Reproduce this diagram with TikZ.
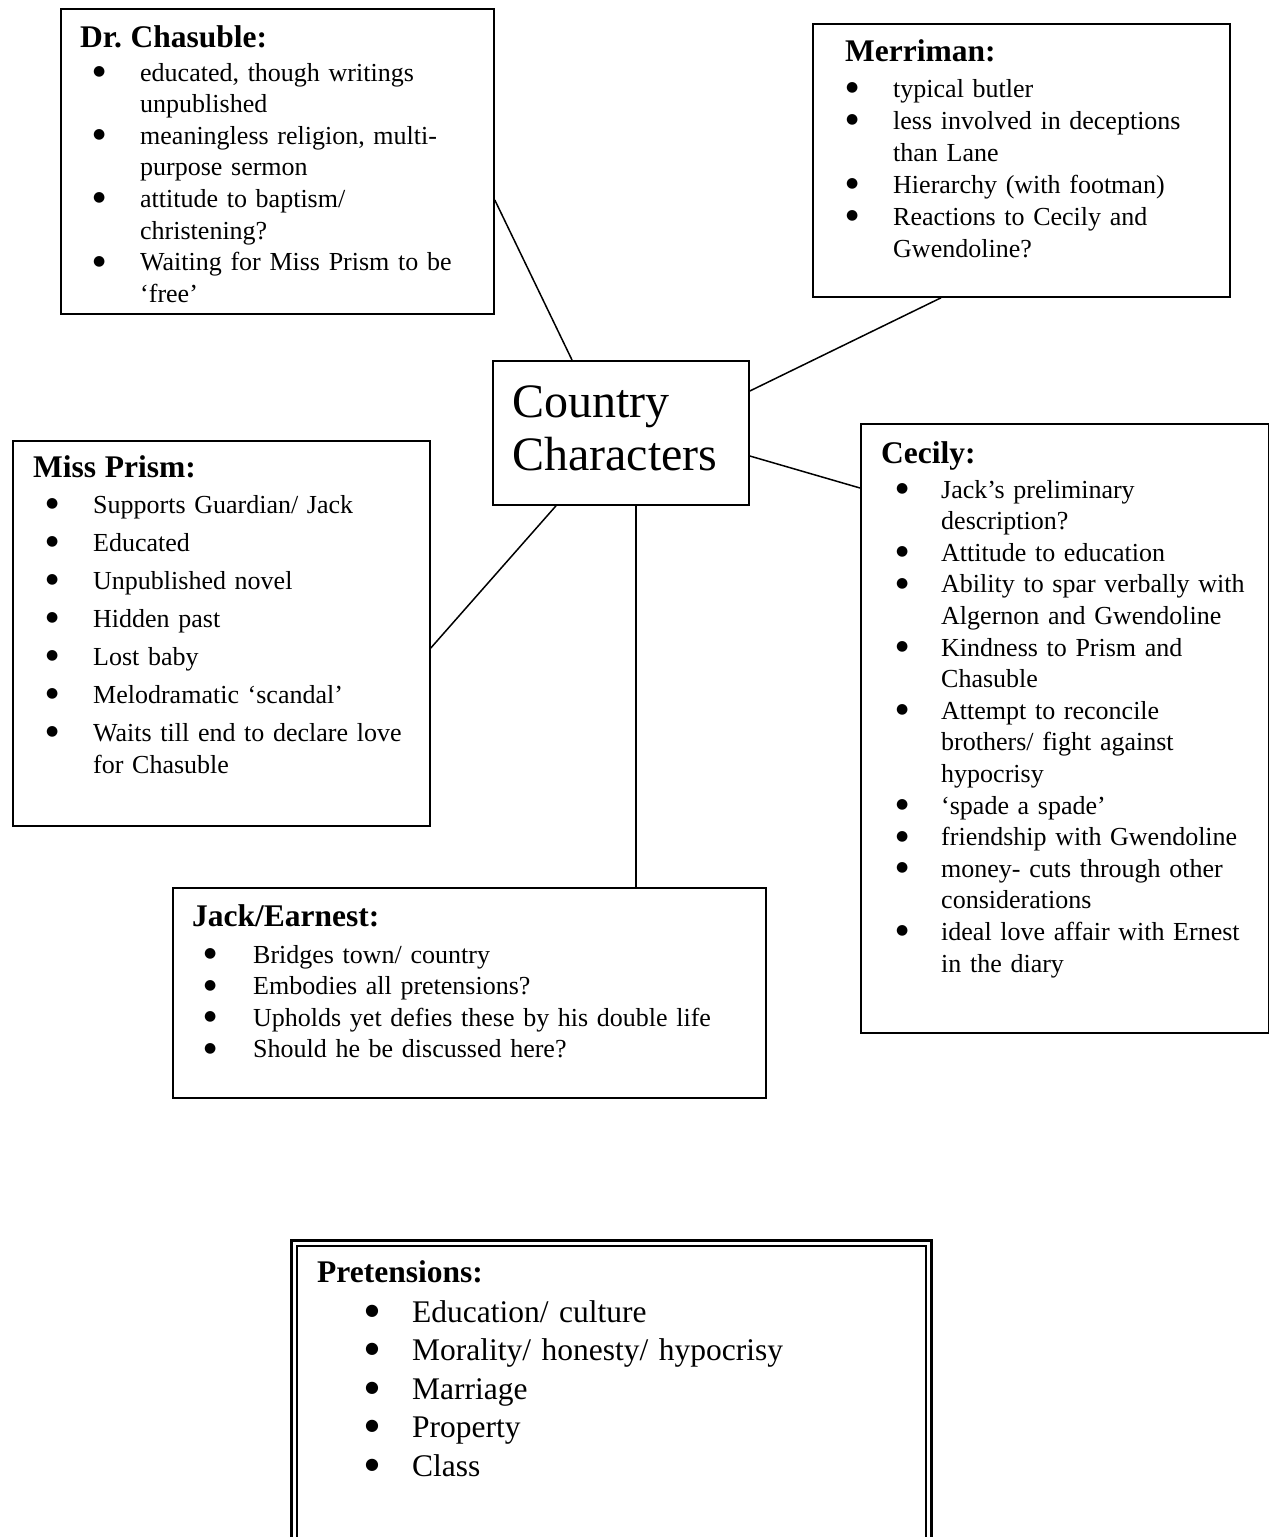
\documentclass[tikz,border=0pt]{standalone}
\usepackage{fontspec}
\setmainfont{Liberation Serif}
\newfontfamily\bulfont{DejaVu Sans}
\frenchspacing
\newlength\bulind
\newlength\bulwd
\newlength\itemgap
\newcommand\bulsz{14}
\newcommand\bulup{5.5pt}
\newcommand\itm{\par\vspace{\itemgap}\noindent\hspace*{\bulind}\makebox[\bulwd][l]{\raisebox{\bulup}{\bulfont\fontsize{\bulsz}{\bulsz}\selectfont ●}}}
\newcommand\cnt{\par\noindent\hspace*{\bulind}\hspace*{\bulwd}}
\newcommand\ttl[1]{\noindent{\fontsize{31.5}{31.5}\selectfont\bfseries #1}\par}

\begin{document}
\begin{tikzpicture}[x=1pt, y=-1pt,
  box/.style={draw, line width=1.8pt, anchor=north west, inner sep=0pt},
  txt/.style={anchor=base west, inner sep=0pt, text width=#1, font=\fontsize{26}{31.6}\selectfont},
  link/.style={line width=1.5pt}
]
\useasboundingbox (0,0) rectangle (1269,1537);
\clip (0,0) rectangle (1269,1537);

% boxes
\node[box, minimum width=433pt, minimum height=305pt] (chasuble) at (60,8) {};
\node[box, minimum width=417pt, minimum height=273pt] (merriman) at (812,23) {};
\node[box, minimum width=256pt, minimum height=144pt] (center) at (492,360) {};
\node[box, minimum width=417pt, minimum height=385pt] (prism) at (12,440) {};
\node[box, minimum width=408pt, minimum height=609pt] (cecily) at (860,423) {};
\node[box, minimum width=593pt, minimum height=210pt] (jack) at (172,887) {};
\node[box, line width=3pt, minimum width=640pt, minimum height=400pt] (pret) at (290,1239) {};
\draw[line width=1.2pt] ([shift={(7,7)}]pret.north west) rectangle ([shift={(-7,-7)}]pret.south east);

% texts
\node[anchor=base west, inner sep=0pt, text width=235pt, font=\fontsize{48}{53}\selectfont] (centertxt) at (512,417) {Country\\Characters};

\node[txt=400pt] (chasubletxt) at (80,47) {\setlength\bulind{13pt}\setlength\bulwd{47pt}\setlength\itemgap{0pt}%
\ttl{Dr. Chasuble:}\vspace{2.4pt}
\itm educated, though writings
\cnt unpublished
\itm meaningless religion, multi-
\cnt purpose sermon
\itm attitude to baptism/
\cnt christening?
\itm Waiting for Miss Prism to be
\cnt ‘free’};

\node[txt=380pt, font=\fontsize{26}{32}\selectfont] (merrimantxt) at (845,61) {\setlength\bulind{1pt}\setlength\bulwd{47pt}\setlength\itemgap{0pt}%
\ttl{Merriman:}\vspace{4pt}
\itm typical butler
\itm less involved in deceptions
\cnt than Lane
\itm Hierarchy (with footman)
\itm Reactions to Cecily and
\cnt Gwendoline?};

\node[txt=390pt, font=\fontsize{26}{32}\selectfont] (prismtxt) at (33,477) {\setlength\bulind{13pt}\setlength\bulwd{47pt}\setlength\itemgap{6pt}%
\ttl{Miss Prism:}\vspace{-2pt}
\itm Supports Guardian/ Jack
\itm Educated
\itm Unpublished novel
\itm Hidden past
\itm Lost baby
\itm Melodramatic ‘scandal’
\itm Waits till end to declare love
\cnt for Chasuble};

\node[txt=380pt] (cecilytxt) at (881,463) {\setlength\bulind{15pt}\setlength\bulwd{45pt}\setlength\itemgap{0pt}%
\ttl{Cecily:}\vspace{3.4pt}
\itm Jack’s preliminary
\cnt description?
\itm Attitude to education
\itm Ability to spar verbally with
\cnt Algernon and Gwendoline
\itm Kindness to Prism and
\cnt Chasuble
\itm Attempt to reconcile
\cnt brothers/ fight against
\cnt hypocrisy
\itm ‘spade a spade’
\itm friendship with Gwendoline
\itm money- cuts through other
\cnt considerations
\itm ideal love affair with Ernest
\cnt in the diary};

\node[txt=560pt] (jacktxt) at (192,926) {\setlength\bulind{12pt}\setlength\bulwd{49pt}\setlength\itemgap{0pt}%
\ttl{Jack/Earnest:}\vspace{5.4pt}
\itm Bridges town/ country
\itm Embodies all pretensions?
\itm Upholds yet defies these by his double life
\itm Should he be discussed here?};

\node[txt=590pt, font=\fontsize{31.5}{38.5}\selectfont] (prettxt) at (317,1282) {\setlength\bulind{48pt}\setlength\bulwd{47pt}\setlength\itemgap{0pt}\renewcommand\bulsz{16}\renewcommand\bulup{7pt}%
\ttl{Pretensions:}\vspace{1.5pt}
\itm Education/ culture
\itm Morality/ honesty/ hypocrisy
\itm Marriage
\itm Property
\itm Class};

% connectors
\draw[link] (chasuble.east |- 0,200) -- (center.north -| 572,0);
\draw[link] (merriman.south -| 941,0) -- (center.east |- 0,391);
\draw[link] (center.east |- 0,456) -- (cecily.west |- 0,488);
\draw[link] (center.south -| 556,0) -- (prism.east |- 0,648);
\draw[link] (center.south -| 636,0) -- (jack.north -| 636,0);
\end{tikzpicture}
\end{document}
